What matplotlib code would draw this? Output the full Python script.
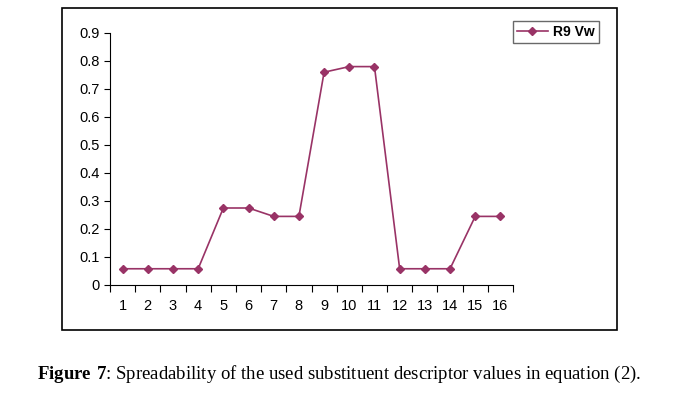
import numpy as np
import matplotlib.pyplot as plt
from matplotlib.patches import Rectangle

# Data
compounds = list(range(1, 17))
r9_vw = [0.058, 0.058, 0.058, 0.058, 0.275, 0.275, 0.245, 0.245,
         0.76, 0.78, 0.78, 0.058, 0.058, 0.058, 0.245, 0.245]
y_ticks = [0, 0.1, 0.2, 0.3, 0.4, 0.5, 0.6, 0.7, 0.8, 0.9]

LINE_COLOR = "#993366"
W, H = 678, 393

plt.rcParams["font.family"] = ["Liberation Sans", "DejaVu Sans"]
plt.rcParams["mathtext.fontset"] = "custom"
plt.rcParams["mathtext.rm"] = "Liberation Serif"
plt.rcParams["mathtext.bf"] = "Liberation Serif:bold"

fig = plt.figure(figsize=(W / 100, H / 100), dpi=100)

# Outer chart frame
fig.patches.append(
    Rectangle((62 / W, 1 - 330 / H), (617 - 62) / W, (330 - 8) / H,
              transform=fig.transFigure, fill=False, edgecolor="black",
              linewidth=1.2)
)

ax = fig.add_axes([110 / W, 1 - 285 / H, 403 / W, 252 / H])
ax.plot(compounds, r9_vw, color=LINE_COLOR, marker="D", markersize=4.5,
        linewidth=1.2, label="R9 Vw")

ax.set_xlim(0.5, len(compounds) + 0.5)
ax.set_ylim(0, 0.9)
ax.set_yticks(y_ticks)
ax.set_yticklabels([f"{v:g}" for v in y_ticks])

# categories centred between tick marks
ax.set_xticks(np.arange(0.5, len(compounds) + 1, 1))
ax.set_xticklabels([])
ax.set_xticks(compounds, minor=True)
ax.set_xticklabels([str(c) for c in compounds], minor=True)
ax.tick_params(axis="x", which="minor", length=0, pad=10, labelsize=10.5)
ax.tick_params(axis="x", which="major", length=5, direction="out")
ax.tick_params(axis="y", length=4, direction="out", labelsize=10.5)

for side in ["top", "right"]:
    ax.spines[side].set_visible(False)

leg = fig.legend(loc="upper left", bbox_to_anchor=(506 / W, 1 - 14 / H),
                 frameon=True, fancybox=False, handlelength=2.2,
                 borderpad=0.3, handletextpad=0.4,
                 prop={"weight": "bold", "size": 10})
leg.get_frame().set_edgecolor("#444444")
leg.get_frame().set_linewidth(1.0)

fig.text(0.5, 1 - 374 / H,
         r"$\mathbf{Figure\ 7}$: Spreadability of the used substituent descriptor values in equation (2).",
         ha="center", va="center", fontsize=13.5, family="Liberation Serif")

fig.savefig("out.png", dpi=100, facecolor="white")
